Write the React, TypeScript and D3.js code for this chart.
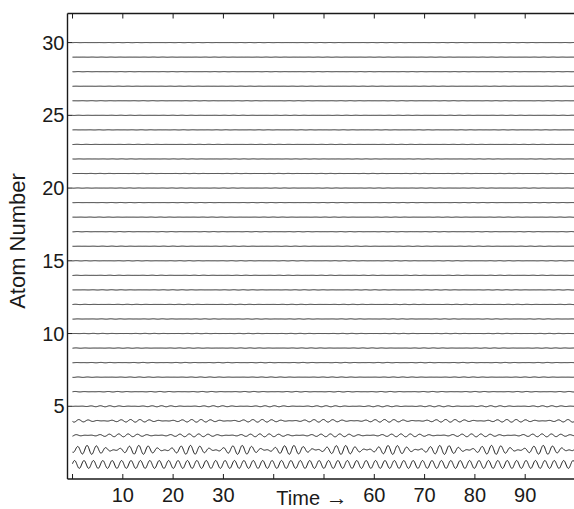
import React from "react";
import * as d3 from "d3";

// ---- data ----
const atomNumbers = [1, 2, 3, 4, 5, 6, 7, 8, 9, 10, 11, 12, 13, 14, 15, 16, 17, 18, 19, 20, 21, 22, 23, 24, 25, 26, 27, 28, 29, 30];
// oscillation amplitude of each atom (in atom-number units)
const amplitudes = [0.27, 0.31, 0.1, 0.09, 0.035, 0.018, 0.015, 0.014, 0.013, 0.012, 0.012, 0.011, 0.011, 0.01, 0.01, 0.01, 0.01, 0.009, 0.009, 0.009, 0.009, 0.008, 0.008, 0.008, 0.008, 0.008, 0.007, 0.007, 0.007, 0.007];
// beat (envelope) period of each atom, 0 = steady
const beatPeriods = [0, 10.05, 14, 12.5, 11, 9, 13, 8, 12, 10, 9.5, 11, 13, 8.5, 10.5, 12, 9, 11.5, 14, 10, 9, 12, 13, 8, 11, 10, 12.5, 9.5, 11, 13];
const beatOffsets = [0, 8.3, 3, 6, 1, 4, 7, 2, 5, 0, 3, 6, 1, 4, 7, 2, 5, 0, 3, 6, 1, 4, 7, 2, 5, 0, 3, 6, 1, 4];
const carrierPeriod = 1.87;
const carrierPhases = [0.2, 1.3, 2.1, 0.5, 1.8, 2.9, 0.9, 1.6, 2.4, 0.3, 1.1, 2.7, 0.6, 1.9, 2.2, 0.4, 1.5, 2.6, 0.8, 1.2, 2.0, 0.1, 1.7, 2.8, 0.7, 1.4, 2.3, 0.9, 1.0, 2.5];
const xTicks = [0, 10, 20, 30, 40, 50, 60, 70, 80, 90, 100];
const xTickLabels = ["", "10", "20", "30", "", "", "60", "70", "80", "90", ""];
const yTicks = [5, 10, 15, 20, 25, 30];
const timeSamples = d3.range(0, 100.001, 0.08);

const W = 574;
const H = 509;
const FONT = "'Liberation Sans', Arial, Helvetica, sans-serif";

export default function App() {
  const x = d3.scaleLinear().domain([-1, 100]).range([67.5, 575.5]);
  const y = d3.scaleLinear().domain([0, 32]).range([479, 13.5]);
  const left = x(-1);
  const right = x(100);
  const top = y(32);
  const bottom = y(0);

  const line = d3
    .line<[number, number]>()
    .x((d) => x(d[0]))
    .y((d) => y(d[1]));

  const paths = atomNumbers.map((n, i) => {
    const A = amplitudes[i];
    const Tb = beatPeriods[i];
    const pts: [number, number][] = timeSamples.map((t) => {
      const env = Tb > 0 ? Math.sin((Math.PI * (t - beatOffsets[i])) / Tb) : 1;
      const v = A * env * Math.sin((2 * Math.PI * t) / carrierPeriod + carrierPhases[i]);
      return [t, n + v];
    });
    return line(pts) as string;
  });

  return (
    <svg
      width={W}
      height={H}
      style={{ position: "absolute", left: 0, top: 0, background: "#fff" }}
      fontFamily={FONT}
    >
      <g fill="none" stroke="#1a1a1a" strokeWidth={1}>
        {paths.map((d, i) => (
          <path key={i} d={d} />
        ))}
      </g>
      {/* axes frame */}
      <g stroke="#1a1a1a" strokeWidth={1.4} fill="none">
        <line x1={left} x2={left} y1={top} y2={bottom} />
        <line x1={left} x2={right} y1={top} y2={top} />
        <line x1={left} x2={right} y1={bottom} y2={bottom} />
      </g>
      {/* ticks */}
      <g stroke="#1a1a1a" strokeWidth={1}>
        {xTicks.map((t) => (
          <g key={t}>
            <line x1={x(t)} x2={x(t)} y1={bottom} y2={bottom - 5} />
            <line x1={x(t)} x2={x(t)} y1={top} y2={top + 5} />
          </g>
        ))}
        {yTicks.map((t) => (
          <line key={t} x1={left} x2={left + 5} y1={y(t)} y2={y(t)} />
        ))}
      </g>
      <g fontSize={20} fill="#1a1a1a">
        {xTicks.map((t, i) => (
          <text key={t} x={x(t)} y={502} textAnchor="middle">
            {xTickLabels[i]}
          </text>
        ))}
        {yTicks.map((t) => (
          <text key={t} x={left - 3} y={y(t) + 7} textAnchor="end">
            {t}
          </text>
        ))}
        <text x={312} y={505} textAnchor="middle">
          Time <tspan fontSize={22}>{"\u2192"}</tspan>
        </text>
        <text
          transform={`translate(25, 241) rotate(-90)`}
          textAnchor="middle"
          fontSize={22}
        >
          Atom Number
        </text>
      </g>
    </svg>
  );
}
